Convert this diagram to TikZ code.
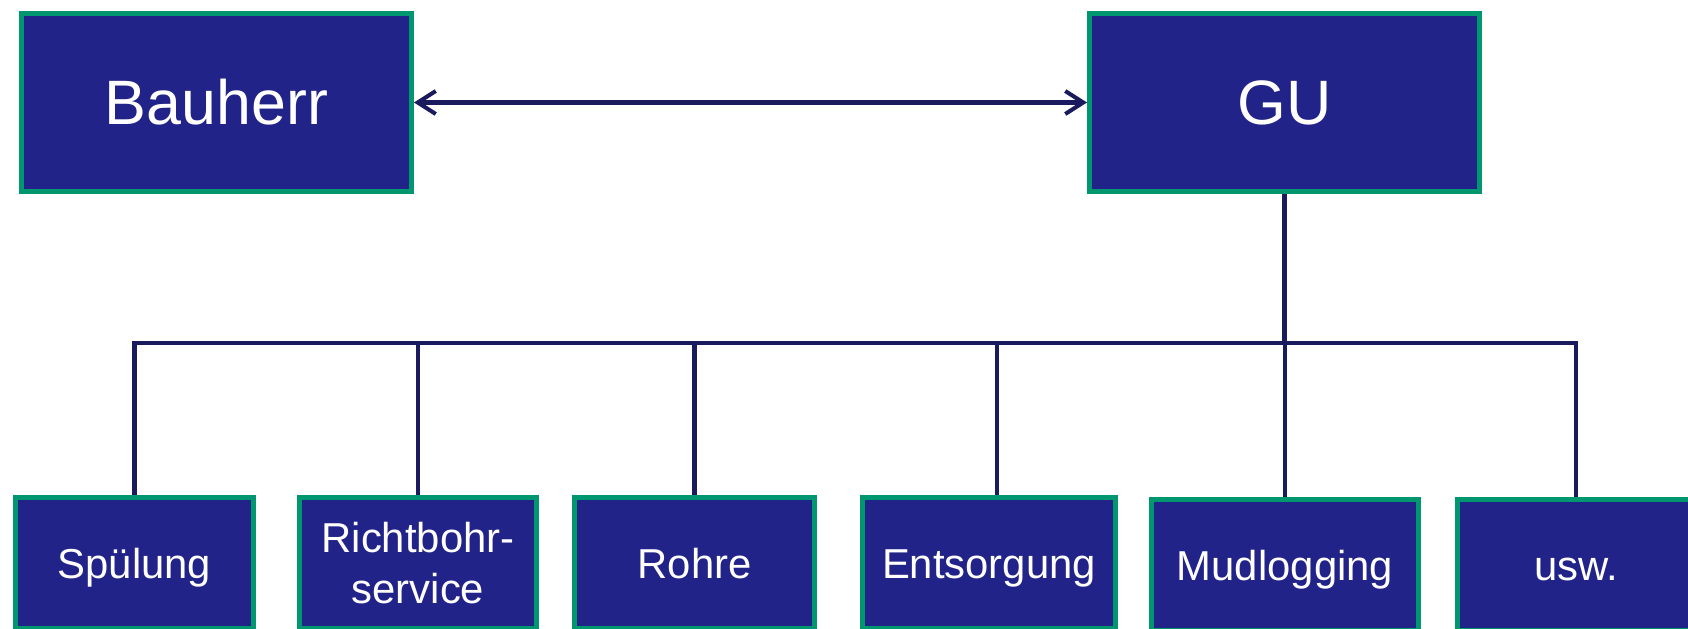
\documentclass[tikz,border=0pt]{standalone}
\usepackage{fontspec}
\setmainfont{Liberation Sans}
\usepackage{tikz}
\usetikzlibrary{arrows.meta}
\definecolor{boxfill}{RGB}{34,35,137}
\definecolor{boxline}{RGB}{0,150,112}
\definecolor{connblue}{RGB}{26,26,94}

\begin{document}
\begin{tikzpicture}[x=0.02cm,y=-0.02cm,
        box/.style={draw=boxline,fill=boxfill,line width=2.6pt,text=white,align=center,inner sep=0pt,text depth=0pt},
        big/.style={box,minimum width=7.81cm,minimum height=3.57cm,text height=0.9cm,font=\fontsize{35.7}{43}\selectfont},
        small/.style={box,minimum height=2.63cm,text height=0.6cm,font=\fontsize{23.8}{29.5}\selectfont},
        conn/.style={draw=connblue,line width=2.3pt},
        tip/.tip={Straight Barb[length=3.6mm,width=4.6mm]}]
        \useasboundingbox (0,0) rectangle (1688,629);
        \node[big] (B)  at (216.5,102.5) {Bauherr};
        \node[big] (GU) at (1284.5,102.5) {GU};

        \node[small,minimum width=4.77cm] (n1) at (134.5,563) {Spülung};
        \node[small,minimum width=4.75cm,text height=1.64cm] (n2) at (418,563) {Richtbohr-\\service};
        \node[small,minimum width=4.81cm] (n3) at (694.5,563) {Rohre};
        \node[small,minimum width=5.07cm] (n4) at (989,563) {Entsorgung};
        \node[small,minimum width=5.35cm] (n5) at (1285,565) {Mudlogging};
        \node[small,minimum width=4.75cm] (n6) at (1576,565) {usw.};

        \coordinate (bar) at (0,343);

        \draw[conn,tip-tip] (B) -- (GU);
        \foreach \n in {n1,n2,n3,n5,n6}
            \draw[conn] (GU.south) -- (GU.south |- bar) -| (\n.north);
        \draw[conn] (GU.south) -- (GU.south |- bar) -| ([xshift=0.16cm]n4.north);
    \end{tikzpicture}
\end{document}
